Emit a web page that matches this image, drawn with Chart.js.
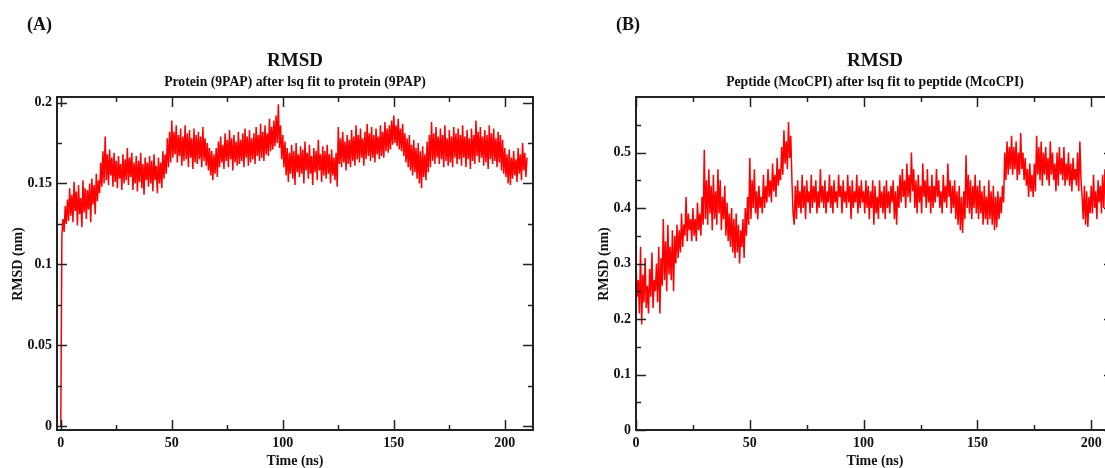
<!DOCTYPE html>
<html>
<head>
<meta charset="utf-8">
<script src="https://cdn.jsdelivr.net/npm/chart.js@4.4.0/dist/chart.umd.min.js"></script>
<style>
	html, body { margin: 0; padding: 0; background: #fff; overflow: hidden; }
	body { width: 1105px; height: 468px; position: relative; }
	canvas { position: absolute; top: 0; }
	#chartA { left: 0; }
	#chartB { left: 590px; }
</style>
</head>
<body>
<canvas id="chartA" width="590" height="468"></canvas>
<canvas id="chartB" width="540" height="468"></canvas>
<script>
// time step of the trajectory samples (ns)
const timeStep = 0.5;

// RMSD of protein (9PAP), nm, every 0.5 ns from 0 to 210 (5 ns per row)
const rmsdProtein = [
	0.000, 0.118, 0.128, 0.120, 0.136, 0.125, 0.140, 0.127, 0.147, 0.130,
	0.143, 0.126, 0.151, 0.133, 0.145, 0.124, 0.149, 0.131, 0.141, 0.123,
	0.152, 0.132, 0.147, 0.128, 0.146, 0.134, 0.150, 0.126, 0.153, 0.137,
	0.149, 0.131, 0.156, 0.139, 0.152, 0.144, 0.163, 0.148, 0.170, 0.150,
	0.179, 0.152, 0.168, 0.149, 0.171, 0.155, 0.166, 0.148, 0.169, 0.151,
	0.164, 0.147, 0.167, 0.153, 0.162, 0.146, 0.168, 0.150, 0.165, 0.152,
	0.172, 0.149, 0.166, 0.154, 0.169, 0.146, 0.163, 0.150, 0.167, 0.145,
	0.164, 0.151, 0.169, 0.147, 0.162, 0.143, 0.166, 0.152, 0.163, 0.148,
	0.167, 0.150, 0.164, 0.145, 0.168, 0.152, 0.161, 0.144, 0.166, 0.150,
	0.163, 0.147, 0.170, 0.153, 0.168, 0.156, 0.178, 0.160, 0.182, 0.163,
	0.189, 0.166, 0.182, 0.168, 0.186, 0.163, 0.180, 0.167, 0.184, 0.161,
	0.179, 0.164, 0.186, 0.165, 0.181, 0.160, 0.183, 0.166, 0.178, 0.159,
	0.184, 0.163, 0.180, 0.162, 0.182, 0.165, 0.179, 0.160, 0.185, 0.164,
	0.178, 0.161, 0.175, 0.158, 0.172, 0.155, 0.170, 0.152, 0.168, 0.156,
	0.172, 0.154, 0.176, 0.160, 0.179, 0.163, 0.174, 0.159, 0.181, 0.164,
	0.177, 0.160, 0.183, 0.165, 0.178, 0.158, 0.180, 0.163, 0.176, 0.161,
	0.182, 0.162, 0.177, 0.164, 0.181, 0.160, 0.184, 0.166, 0.179, 0.161,
	0.183, 0.163, 0.178, 0.165, 0.181, 0.162, 0.185, 0.167, 0.180, 0.164,
	0.187, 0.166, 0.182, 0.164, 0.186, 0.168, 0.181, 0.167, 0.190, 0.170,
	0.185, 0.171, 0.189, 0.173, 0.192, 0.175, 0.199, 0.172, 0.186, 0.165,
	0.180, 0.160, 0.176, 0.155, 0.172, 0.151, 0.169, 0.156, 0.174, 0.153,
	0.170, 0.149, 0.175, 0.157, 0.168, 0.154, 0.173, 0.156, 0.171, 0.150,
	0.176, 0.158, 0.169, 0.153, 0.174, 0.156, 0.167, 0.149, 0.172, 0.157,
	0.170, 0.152, 0.177, 0.158, 0.168, 0.151, 0.173, 0.155, 0.170, 0.153,
	0.174, 0.156, 0.168, 0.150, 0.171, 0.155, 0.166, 0.152, 0.169, 0.148,
	0.185, 0.162, 0.178, 0.160, 0.182, 0.163, 0.176, 0.158, 0.180, 0.162,
	0.177, 0.160, 0.183, 0.164, 0.179, 0.161, 0.186, 0.165, 0.180, 0.163,
	0.184, 0.166, 0.178, 0.161, 0.182, 0.165, 0.187, 0.167, 0.181, 0.164,
	0.185, 0.166, 0.180, 0.163, 0.184, 0.168, 0.179, 0.165, 0.186, 0.167,
	0.182, 0.166, 0.188, 0.170, 0.184, 0.169, 0.186, 0.171, 0.189, 0.174,
	0.192, 0.175, 0.186, 0.173, 0.190, 0.171, 0.184, 0.170, 0.187, 0.167,
	0.181, 0.163, 0.178, 0.160, 0.180, 0.158, 0.174, 0.155, 0.177, 0.157,
	0.172, 0.153, 0.175, 0.150, 0.170, 0.147, 0.173, 0.154, 0.168, 0.152,
	0.176, 0.157, 0.180, 0.160, 0.188, 0.164, 0.181, 0.162, 0.185, 0.166,
	0.179, 0.162, 0.184, 0.165, 0.180, 0.160, 0.186, 0.164, 0.178, 0.161,
	0.183, 0.163, 0.179, 0.160, 0.185, 0.166, 0.181, 0.162, 0.184, 0.165,
	0.180, 0.161, 0.186, 0.166, 0.179, 0.160, 0.183, 0.165, 0.178, 0.159,
	0.184, 0.164, 0.180, 0.162, 0.189, 0.167, 0.182, 0.163, 0.185, 0.166,
	0.179, 0.161, 0.183, 0.163, 0.180, 0.159, 0.186, 0.165, 0.181, 0.162,
	0.184, 0.164, 0.178, 0.160, 0.182, 0.163, 0.180, 0.158, 0.177, 0.156,
	0.172, 0.154, 0.168, 0.150, 0.171, 0.149, 0.166, 0.153, 0.170, 0.155,
	0.165, 0.151, 0.172, 0.156, 0.168, 0.152, 0.175, 0.158, 0.169, 0.154,
	0.166
];

// RMSD of peptide (McoCPI), nm, every 0.5 ns from 0 to 210 (5 ns per row)
const rmsdPeptide = [
	0.30, 0.24, 0.27, 0.21, 0.33, 0.19, 0.28, 0.23, 0.31, 0.22,
	0.26, 0.21, 0.29, 0.24, 0.32, 0.22, 0.27, 0.25, 0.30, 0.23,
	0.33, 0.21, 0.31, 0.26, 0.38, 0.27, 0.34, 0.25, 0.37, 0.28,
	0.33, 0.27, 0.36, 0.25, 0.35, 0.30, 0.37, 0.31, 0.36, 0.32,
	0.39, 0.33, 0.37, 0.35, 0.42, 0.34, 0.39, 0.36, 0.38, 0.34,
	0.40, 0.35, 0.38, 0.34, 0.41, 0.36, 0.39, 0.35, 0.42, 0.37,
	0.505, 0.38, 0.45, 0.37, 0.47, 0.39, 0.44, 0.36, 0.46, 0.38,
	0.43, 0.37, 0.47, 0.39, 0.45, 0.36, 0.42, 0.38, 0.44, 0.35,
	0.41, 0.34, 0.39, 0.33, 0.40, 0.32, 0.38, 0.31, 0.39, 0.32,
	0.37, 0.30, 0.36, 0.33, 0.38, 0.31, 0.40, 0.35, 0.42, 0.37,
	0.49, 0.38, 0.45, 0.40, 0.47, 0.39, 0.43, 0.38, 0.44, 0.40,
	0.42, 0.39, 0.46, 0.40, 0.44, 0.41, 0.47, 0.42, 0.45, 0.41,
	0.48, 0.43, 0.46, 0.42, 0.49, 0.44, 0.47, 0.45, 0.51, 0.46,
	0.54, 0.48, 0.52, 0.47, 0.555, 0.49, 0.53, 0.45, 0.39, 0.37,
	0.44, 0.38, 0.45, 0.40, 0.43, 0.39, 0.46, 0.40, 0.44, 0.38,
	0.45, 0.41, 0.43, 0.39, 0.46, 0.40, 0.44, 0.41, 0.45, 0.39,
	0.43, 0.40, 0.47, 0.41, 0.44, 0.40, 0.45, 0.39, 0.43, 0.41,
	0.46, 0.40, 0.44, 0.39, 0.45, 0.41, 0.43, 0.40, 0.46, 0.42,
	0.44, 0.39, 0.45, 0.41, 0.43, 0.40, 0.46, 0.41, 0.44, 0.38,
	0.45, 0.40, 0.43, 0.41, 0.46, 0.39, 0.44, 0.40, 0.45, 0.41,
	0.43, 0.39, 0.45, 0.40, 0.44, 0.38, 0.43, 0.40, 0.45, 0.37,
	0.44, 0.39, 0.42, 0.38, 0.45, 0.40, 0.43, 0.39, 0.44, 0.38,
	0.45, 0.40, 0.43, 0.39, 0.44, 0.41, 0.45, 0.38, 0.43, 0.37,
	0.44, 0.40, 0.46, 0.41, 0.47, 0.42, 0.45, 0.40, 0.48, 0.42,
	0.46, 0.41, 0.50, 0.43, 0.47, 0.40, 0.45, 0.39, 0.46, 0.41,
	0.44, 0.39, 0.48, 0.42, 0.45, 0.40, 0.47, 0.41, 0.44, 0.39,
	0.46, 0.40, 0.44, 0.41, 0.47, 0.42, 0.45, 0.40, 0.43, 0.39,
	0.46, 0.41, 0.44, 0.40, 0.48, 0.42, 0.45, 0.39, 0.44, 0.40,
	0.45, 0.38, 0.43, 0.37, 0.44, 0.36, 0.42, 0.355, 0.43, 0.38,
	0.495, 0.40, 0.46, 0.39, 0.45, 0.38, 0.44, 0.40, 0.46, 0.39,
	0.44, 0.38, 0.45, 0.39, 0.43, 0.37, 0.44, 0.38, 0.42, 0.37,
	0.45, 0.38, 0.43, 0.37, 0.44, 0.36, 0.42, 0.365, 0.43, 0.38,
	0.42, 0.39, 0.44, 0.41, 0.50, 0.45, 0.52, 0.46, 0.51, 0.47,
	0.53, 0.46, 0.51, 0.47, 0.52, 0.45, 0.50, 0.46, 0.535, 0.47,
	0.50, 0.45, 0.49, 0.44, 0.47, 0.42, 0.48, 0.43, 0.46, 0.42,
	0.48, 0.43, 0.53, 0.46, 0.51, 0.45, 0.52, 0.44, 0.50, 0.46,
	0.51, 0.45, 0.49, 0.44, 0.52, 0.46, 0.50, 0.45, 0.48, 0.43,
	0.50, 0.44, 0.51, 0.46, 0.49, 0.45, 0.51, 0.44, 0.48, 0.45,
	0.50, 0.44, 0.48, 0.43, 0.49, 0.45, 0.47, 0.44, 0.50, 0.43,
	0.52, 0.45, 0.42, 0.38, 0.44, 0.37, 0.43, 0.366, 0.42, 0.39,
	0.44, 0.39, 0.46, 0.40, 0.43, 0.38, 0.45, 0.41, 0.44, 0.39,
	0.46, 0.40, 0.47, 0.41, 0.44, 0.39, 0.45, 0.40, 0.43, 0.41,
	0.44
];

// tick values
const timeTicks = [0, 50, 100, 150, 200];
const timeMinorTicks = [25, 75, 125, 175];
const proteinTicks = [0, 0.05, 0.1, 0.15, 0.2];
const proteinMinorTicks = [0.025, 0.075, 0.125, 0.175];
const peptideTicks = [0, 0.1, 0.2, 0.3, 0.4, 0.5];
const peptideMinorTicks = [0.05, 0.15, 0.25, 0.35, 0.45, 0.55];

const SERIF = "'Liberation Serif', 'DejaVu Serif', serif";
const INK = "#222";

// frame with inward ticks on all four sides, plus titles
const gracePlugin = {
	id: "grace",
	afterDraw(chart, args, opts) {
		const ctx = chart.ctx;
		const a = chart.chartArea;
		const xs = chart.scales.x;
		const ys = chart.scales.y;
		const line = (x1, y1, x2, y2) => {
			ctx.beginPath();
			ctx.moveTo(x1, y1);
			ctx.lineTo(x2, y2);
			ctx.stroke();
		};
		ctx.save();
		ctx.strokeStyle = INK;
		ctx.lineWidth = 1.5;
		const xMarks = (vals, len) =>
			vals.forEach((v) => {
				const px = Math.round(xs.getPixelForValue(v)) + 0.5;
				line(px, a.bottom, px, a.bottom - len);
				line(px, a.top, px, a.top + len);
			});
		const yMarks = (vals, len) =>
			vals.forEach((v) => {
				const py = Math.round(ys.getPixelForValue(v)) + 0.5;
				line(a.left, py, a.left + len, py);
				line(a.right, py, a.right - len, py);
			});
		xMarks(opts.xMajor, 10);
		xMarks(opts.xMinor, 5);
		yMarks(opts.yMajor, 10);
		yMarks(opts.yMinor, 5);
		ctx.lineWidth = 2;
		ctx.strokeRect(a.left, a.top, a.right - a.left, a.bottom - a.top);

		// texts
		const cx = (a.left + a.right) / 2;
		ctx.fillStyle = "#111";
		ctx.textBaseline = "alphabetic";
		ctx.textAlign = "left";
		ctx.font = "bold 18px " + SERIF;
		ctx.fillText(opts.panel, opts.panelX, 30);
		ctx.textAlign = "center";
		ctx.font = "bold 19px " + SERIF;
		ctx.fillText(opts.title, cx, 66);
		ctx.font = "bold 13.7px " + SERIF;
		ctx.fillText(opts.subtitle, cx, 86);
		ctx.font = "bold 14px " + SERIF;
		ctx.fillText("Time (ns)", cx, 465);
		ctx.translate(opts.yTitleX, 264);
		ctx.rotate(-Math.PI / 2);
		ctx.fillText("RMSD (nm)", 0, 0);
		ctx.restore();
	},
};

function makeChart(id, values, cfg) {
	const points = values.map((v, i) => ({ x: i * timeStep, y: v }));
	const ctx = document.getElementById(id).getContext("2d");
	return new Chart(ctx, {
		type: "line",
		data: {
			datasets: [
				{
					data: points,
					borderColor: "#ff0000",
					borderWidth: 1.5,
					pointRadius: 0,
					tension: 0,
					fill: false,
				},
			],
		},
		options: {
			responsive: false,
			animation: false,
			devicePixelRatio: 1,
			layout: { padding: cfg.padding },
			plugins: {
				legend: { display: false },
				tooltip: { enabled: false },
				grace: cfg.grace,
			},
			scales: {
				x: {
					type: "linear",
					min: cfg.xMin,
					max: cfg.xMax,
					grid: { display: false, drawTicks: false, tickLength: 0 },
					border: { display: false },
					afterBuildTicks: (scale) => {
						scale.ticks = timeTicks.map((v) => ({ value: v }));
					},
					afterFit: (scale) => {
						scale.height = 30;
					},
					ticks: {
						padding: 5,
						maxRotation: 0,
						color: "#111",
						font: { family: SERIF, size: 14, weight: "bold" },
						callback: (v) => String(v),
					},
				},
				y: {
					type: "linear",
					min: cfg.yMin,
					max: cfg.yMax,
					grid: { display: false, drawTicks: false, tickLength: 0 },
					border: { display: false },
					afterBuildTicks: (scale) => {
						scale.ticks = cfg.yTicks.map((v) => ({ value: v }));
					},
					afterFit: (scale) => {
						scale.width = 40;
					},
					ticks: {
						padding: 5,
						color: "#111",
						font: { family: SERIF, size: 14, weight: "bold" },
						callback: (v) => String(v),
					},
				},
			},
		},
		plugins: [gracePlugin],
	});
}

// (A) protein
makeChart("chartA", rmsdProtein, {
	padding: { left: 17, right: 57, top: 97, bottom: 8 },
	xMin: -1.7,
	xMax: 212.7,
	yMin: -0.0025,
	yMax: 0.2035,
	yTicks: proteinTicks,
	grace: {
		panel: "(A)",
		panelX: 27,
		title: "RMSD",
		subtitle: "Protein (9PAP) after lsq fit to protein (9PAP)",
		yTitleX: 21.5,
		xMajor: timeTicks,
		xMinor: timeMinorTicks,
		yMajor: proteinTicks,
		yMinor: proteinMinorTicks,
	},
});

// (B) peptide
makeChart("chartB", rmsdPeptide, {
	padding: { left: 6, right: 16, top: 97, bottom: 8 },
	xMin: 0,
	xMax: 210,
	yMin: 0,
	yMax: 0.6,
	yTicks: peptideTicks,
	grace: {
		panel: "(B)",
		panelX: 26,
		title: "RMSD",
		subtitle: "Peptide (McoCPI) after lsq fit to peptide (McoCPI)",
		yTitleX: 17.5,
		xMajor: timeTicks,
		xMinor: timeMinorTicks,
		yMajor: peptideTicks,
		yMinor: peptideMinorTicks,
	},
});
</script>
</body>
</html>
